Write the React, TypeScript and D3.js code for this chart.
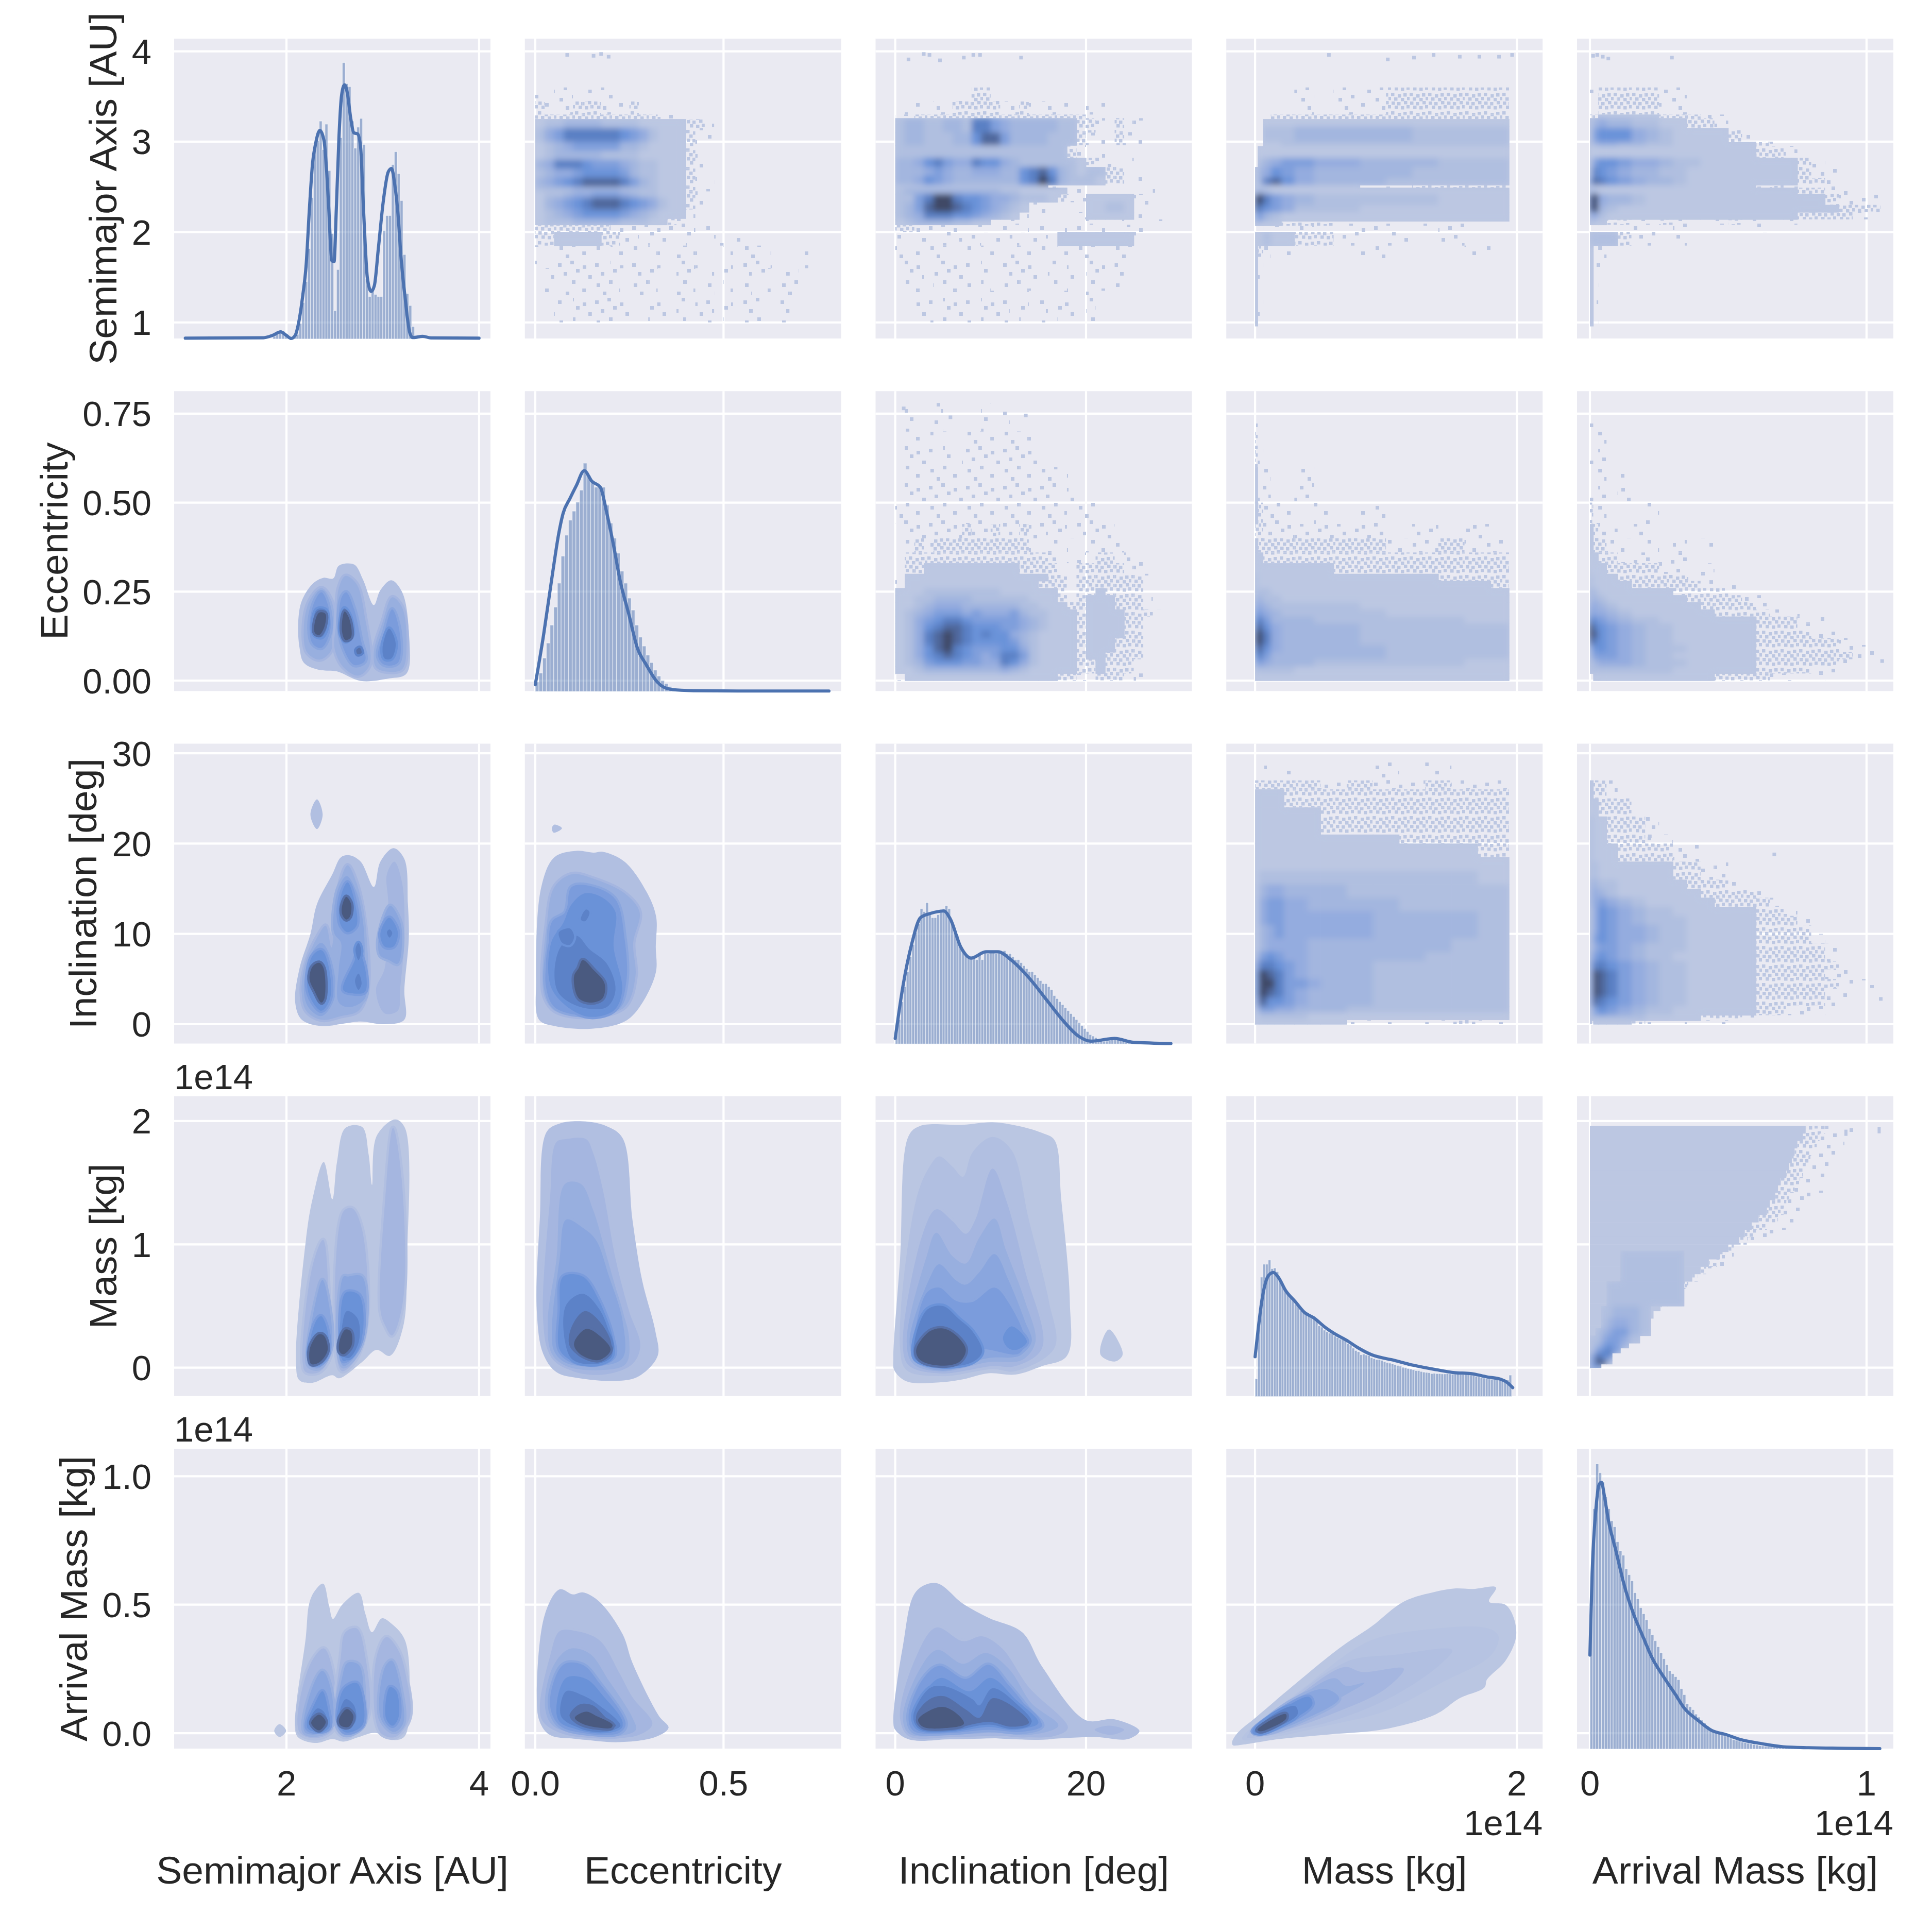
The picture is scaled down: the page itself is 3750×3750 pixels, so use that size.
import React from "react";
import * as d3 from "d3";

const labels = ["Semimajor Axis [AU]", "Eccentricity", "Inclination [deg]", "Mass [kg]", "Arrival Mass [kg]"];
const xDomains = [[0.834, 4.118], [-0.0277, 0.8125], [-2.06, 31.1], [-0.22, 2.197], [-0.0466, 1.097]];
const yDomains = [[0.822, 4.14], [-0.0293, 0.8133], [-2.14, 31.06], [-0.23, 2.201], [-0.06, 1.107]];
const xTicks = [[2, 4], [0, 0.5], [0, 20], [0, 2], [0, 1]];
const xTickText = [["2", "4"], ["0.0", "0.5"], ["0", "20"], ["0", "2"], ["0", "1"]];
const yTicks = [[1, 2, 3, 4], [0, 0.25, 0.5, 0.75], [0, 10, 20, 30], [0, 1, 2], [0, 0.5, 1]];
const yTickText = [["1", "2", "3", "4"], ["0.00", "0.25", "0.50", "0.75"], ["0", "10", "20", "30"], ["0", "1", "2"], ["0.0", "0.5", "1.0"]];
const yLabelX = [226, 131, 187, 226, 169];

// diagonal histograms: [first bin, bin width, heights in percent of panel height]
const histA = [1.86, 0.03, [0.7, 1.4, 2.5, 2.5, 1, 0.4, 0.2, 0.4, 1.4, 5, 12, 19, 30, 47, 64.5, 66, 72.5, 63, 71.5, 56, 35, 9.3, 23, 67, 92, 85, 84, 72.5, 63.5, 70.5, 73.4, 64.7, 20, 14, 16, 14.7, 14, 14, 36, 41, 41, 58, 62.3, 55, 46, 28, 15, 11, 4, 0.3]];
const histE = [0, 0.0098, [3, 6, 11, 16, 22, 28, 36, 45, 52, 57, 60, 63, 67, 76, 72, 70, 68, 68, 68, 62, 56, 51, 46, 40, 36, 31, 27, 22, 18, 15, 12, 9.5, 7, 5, 3.5, 2.5, 1.5, 1, 0.7, 0.5, 0.3, 0.2, 0.1]];
const histI = [0, 0.29, [6, 8, 14, 19, 24, 29, 33, 37, 40, 45, 44, 47, 43, 42, 42, 43, 44, 45, 46, 45, 40, 38, 36, 33, 31, 30, 29, 28.5, 29, 28, 30, 28, 31, 30, 31, 31, 30, 31, 30, 31, 30, 30, 29, 28, 28, 27, 26, 25, 24, 24, 23, 22, 21, 20, 20, 19, 18, 16, 15, 14, 13, 12, 11, 10, 9, 8, 7, 6, 5, 4, 3, 2.5, 2, 1.5, 1, 0.8, 0.8, 1, 1.3, 1.7, 1.8, 1.7, 1.5, 1.3, 1, 0.8, 0.6, 0.4, 0.3, 0.2]];
const histM = [0, 0.02, [5.8, 22, 39.7, 44, 44, 45.4, 42.5, 42.7, 41.5, 38.5, 36.8, 35.5, 34, 33.5, 32, 30.6, 30, 28.5, 28, 27.5, 26.8, 26.5, 26.1, 25, 23.5, 23, 22, 21.5, 21, 20.8, 20, 19.5, 19, 18.8, 18.5, 17.5, 17, 16, 15.2, 14.8, 13.8, 14, 13.7, 13.5, 12.8, 12.5, 12.2, 12.2, 11.9, 11.5, 11.2, 11, 10.8, 10.5, 10.2, 10, 9.6, 9.5, 9.2, 9, 8.8, 8.5, 8.5, 8.2, 8, 7.9, 7.8, 7.5, 7.6, 7.5, 7.5, 7.4, 7.4, 7.5, 7.4, 7.3, 7.3, 7.3, 7.2, 7.2, 7.3, 7.6, 7, 6.8, 6.6, 6.4, 6.2, 6, 5.8, 5.7, 5.6, 5.6, 5.5, 5.3, 5.4, 5.5, 5.4, 7]];
const histAM = [0, 0.0105, [45, 80, 95, 92, 89, 84, 80, 76, 74, 69, 66, 64.5, 60, 58, 56, 52, 50, 47, 45, 43, 40, 38, 36, 34, 32, 30, 28, 26, 25, 24, 23, 20, 18, 15, 14, 13, 11.5, 10.5, 9.5, 8.5, 7.5, 6.5, 6, 5.5, 5, 4.8, 4.2, 4, 3.5, 3, 2.8, 2.5, 2.2, 2, 1.8, 1.6, 1.4, 1.2, 1, 0.9, 0.8, 0.7, 0.6, 0.5, 0.4, 0.35, 0.3, 0.25, 0.2, 0.2, 0.15, 0.1, 0.1, 0.1, 0.1]];
const diagHists = [histA, histE, histI, histM, histAM];

// diagonal KDE curves: [value, percent of panel height]
const lineA = [[0.95, 0.1], [1.76, 0.25], [1.86, 1.1], [1.94, 2.2], [2, 1], [2.05, 0], [2.09, 1], [2.128, 5.5], [2.17, 14.5], [2.204, 24.3], [2.238, 43], [2.272, 58.8], [2.3, 64.5], [2.347, 69.4], [2.39, 66], [2.418, 55.5], [2.44, 43], [2.47, 26], [2.494, 25.6], [2.518, 43.4], [2.545, 67], [2.572, 81], [2.603, 84.6], [2.633, 81.7], [2.667, 73.5], [2.7, 68.6], [2.74, 68.2], [2.77, 63.7], [2.794, 47.3], [2.818, 31], [2.84, 20.2], [2.88, 15.7], [2.913, 17.7], [2.954, 30], [3.005, 45.7], [3.056, 55.5], [3.09, 56.7], [3.124, 51.4], [3.158, 41.5], [3.19, 26.8], [3.234, 13], [3.278, 2.2], [3.31, 0.3], [3.415, 0.7], [3.5, 0.2], [3.999, 0.1]];
const lineE = [[0, 2.1], [0.022, 18.7], [0.045, 38.5], [0.063, 53], [0.074, 59.3], [0.092, 64.2], [0.109, 68.5], [0.13, 73.5], [0.15, 70], [0.173, 67.9], [0.19, 59.3], [0.208, 48.5], [0.225, 37], [0.248, 25.8], [0.271, 14.4], [0.295, 8.7], [0.324, 3], [0.358, 0.6], [0.42, 0.1], [0.538, 0], [0.78, 0]];
const lineI = [[0, 1.7], [0.8, 19], [1.75, 33.5], [2.65, 42], [3.7, 43.4], [5.1, 44.2], [5.75, 41.7], [6.9, 32], [7.95, 28.5], [9.5, 30.6], [10.8, 30.6], [12.1, 28], [14, 22], [16, 14], [17.5, 8], [19.2, 2.5], [20.5, 0.8], [23, 1.7], [25, 0.4], [28.9, 0]];
const lineM = [[0, 13.1], [0.025, 22.9], [0.053, 32.2], [0.085, 38.6], [0.113, 40.7], [0.14, 41.2], [0.176, 39.7], [0.236, 35], [0.307, 31.5], [0.377, 27.9], [0.448, 26.1], [0.536, 22.9], [0.607, 20.8], [0.695, 18.7], [0.783, 16.2], [0.889, 13.8], [1.065, 11.9], [1.206, 10.3], [1.383, 8.8], [1.524, 7.8], [1.647, 7.5], [1.77, 6.4], [1.877, 5.6], [1.93, 4.4], [1.968, 2.8]];
const lineAM = [[0, 31.2], [0.008, 58.3], [0.022, 80.2], [0.033, 88], [0.042, 88.8], [0.052, 84.4], [0.067, 76], [0.092, 66.7], [0.125, 54.2], [0.158, 44.8], [0.191, 37.5], [0.225, 30.2], [0.266, 24], [0.308, 18.2], [0.341, 13.5], [0.391, 9.4], [0.441, 6], [0.491, 4.7], [0.541, 3.1], [0.624, 1.6], [0.699, 0.6], [0.79, 0.3], [1.048, 0]];
const diagLines = [lineA, lineE, lineI, lineM, lineAM];

// 2-D histograms: coarse density. "." empty, a/b sparse speckle, 1-9 density.
const eEdges = [0.78, 0.7, 0.6, 0.5, 0.44, 0.4, 0.36, 0.33, 0.3, 0.28, 0.26, 0.24, 0.22, 0.2, 0.18, 0.16, 0.14, 0.12, 0.1, 0.08, 0.06, 0.04, 0.02, 0];
const amCols = [0, 0.012, 0.03, 0.06, 0.1, 0.15, 0.2, 0.25, 0.3, 0.35, 0.4, 0.45, 0.5, 0.55, 0.6, 0.65, 0.7, 0.75, 0.8, 0.85, 0.9, 0.95, 1.05];
const eCols25 = d3.range(0, 33).map((k) => k * 0.025);
const iCols1 = d3.range(0, 30);

const aeY = [3.6, 3.45, 3.3, 3.25, 3.15, 3, 2.9, 2.8, 2.7, 2.6, 2.5, 2.45, 2.38, 2.25, 2.15, 2.08, 2, 1.85, 1.6, 1.3, 1];
const aeRows = ["a.aa.a.aa", "baaabbbaaab", "bbbbbbbbbbbbbaa", "1223333222211111bba", "2457777776542111baa", "1234555553321111ba", "1233333222211111ba", "3477765554322111ba", "2344566665322111ba", "3456788887532111baa", "2222333332222111baa", "1223445554322111ba", "1345678887654211ba", "1234566665432111a", "12223333322211ba", "bbbbbbbbaaaaaaaaa.a", "bb11111bbaa.aa..a..a.a", "a.aaaaa.aaa.aa.aaa..a.aa.a..a", ".a.aaaaaa.aaa..aa.a.a.a.a.aa", "..a.aaaaaa..aa.a.aa.a.aa..a"];
const aiY = [3.6, 3.45, 3.3, 3.26, 3.1, 2.96, 2.82, 2.72, 2.62, 2.52, 2.49, 2.42, 2.33, 2.22, 2.14, 2.08, 2, 1.85, 1.7, 1.35, 1];
const aiRows = ["........bb", ".aa.aabbbbbaabaaaaa.aa", "aabbbbbbbbbbbbbbbbbb", "2332233277543333322bba.baa", "2332223368853333222baa.baa", "222222222222222222ba.a", "33467544766432222221baa.a", "3334543344433678632122bb.a", "3346543333333679732221bb.aa", "1111111111111111a..a", "233333333332211111.a.......a", "22579976654432221baa11111aa", "23589987654321aa....11221aa", "2347776654321a.a...a11111a", "1233332211aaa.a.....aaaa.a.a", "bbaaaaa.aa.a.a.a.a.a.a..aa", "a.aa.aa.a.a.a.aa.11111111a", "a.aaaa.a.aa.aaaa.aaaa.aaa", ".aa.aaaa.a.aaaa.a.a.aa.a", "..aa.aaa.aaa.a.a.aa.a"];
const amX = [0, 0.02, 0.06, 0.12, 0.2, 0.3, 0.45, 0.6, 0.8, 1, 1.2, 1.4, 1.6, 1.8, 1.94];
const amY = [3.6, 3.3, 3.25, 3.17, 3, 2.95, 2.82, 2.72, 2.6, 2.52, 2.49, 2.42, 2.3, 2.22, 2.12, 2.07, 2, 1.85, 1.7, 0.96];
const amRows = [".....a.aabbbbb", "...bbbbbbbbbbb", "..111111111111", "..222333332222", "..112222222222", ".1111111111111", ".2345544333222", "13465433332222", "13786433322222", "11111111aabbbb", "23211111111111", "89754322222111", "87654222111111", "45321111111111", "2111bbbaaaaaa.", "aa.a.a..a..a..", "11211bba.a.a.", "1ba.a...a...a", "1a.........."];
const aaY = [3.6, 3.3, 3.26, 3.15, 3, 2.95, 2.82, 2.72, 2.6, 2.52, 2.49, 2.42, 2.3, 2.22, 2.14, 2.08, 2, 1.85, 1.6, 0.96];
const aaRows = ["aabbbbbaa", "bb11111bbbaa", "234332211bba", "256664321111ba", "23443322111111ba", "11111111111111bba", "25665443221111111ba", "37654332211111111baa", "58765433211111111bba", "11111111111111abaa.a", "32111111111111111bbaa", "8943321111111111111baa", "89321111111111111111bba", "44211111111111111bbbba", "211bbaabaaaabaaaa.a.a", "a....a..a.....a", "2222baa.a", "1aa", "1a"];
const eiRows = [".a..a....a.a", ".aaa.a.aaaaaaaa", ".aaaaaaaaaaaaaaaa.a", "aaaaaaaaaaaaaaaaaa.aa", ".aaaaaabaabaabaa.a.a.aa", ".ababbbbbbbbbba.a.a.aa.a", ".bbbbbbbbbbbbbbba.aa.bb.aa", ".bb1111111111bbbb..bbbbbaa", "a111111111111111bb.bbbbbbba", "a11111111111111bbb.bbbbbbb", "11122222222111111b.bb1bbbb", "11223333222222111b.b111bbba", "112344433333322111bb111bbba", "1234555454445322111b1111bbba", "1245677655555432111b1111bba", "1246788766655432111b1111bba", "1247898767664321111b1111bb", "1247898766665321111b111bbb", "1246897655566421111b111bbb", "1246787654577521111b11bbbb", "1235666554476421111bb1bbb", "1123333333343211111bb1bbba", "a1111111111111111bba.bbb.a"];
const emX = [0, 0.02, 0.06, 0.12, 0.2, 0.3, 0.45, 0.6, 0.8, 1, 1.2, 1.4, 1.6, 1.8, 1.94];
const emRows = ["a", "ba", "1aa..a", "1baaa.a.a", "bbaaaaaaa.a.a", "1bbbbbbbbaabaa", "11bbbbbbbbbbbb", "1111111bbbbbbb", "21111111111bbb", "2111111111111b", "22211111111111", "33221111111111", "44322222111111", "55432222211111", "67533322222211", "78643333222222", "89743333222222", "89743333222222", "78643333322222", "67533333322222", "45433322222211", "22222111111111", "11111111111111"];
const eaRows = ["a", "a.a", "a.a.a", "baa...a", "1baa.a", "1bbaa.a.a.a", "11bbaaaaa", "111bbbbaa.a", "2111bbbbbaa", "21111bbbbba.a", "32111111bbbba", "332111111bbbbaa", "4432111111bbbba", "54432111111bbbba.a", "76543221111111bbbaa", "97654322111111bbbaa", "98654322111111bbbbaa", "87654322111111bbbbbba", "46654322211111bbbbbbaa", "35554322111111bbbbbbba", "23444322211111bbbbbba", "22222222111111bbbbaa", "a1111111111bbbbaa.a"];
const imX = [0, 0.03, 0.09, 0.15, 0.22, 0.3, 0.4, 0.5, 0.7, 0.9, 1.1, 1.3, 1.5, 1.7, 1.94];
const imY = [29, 27, 26, 24, 21, 20, 18.5, 17, 15.5, 14, 12.5, 11, 9.5, 8, 7, 6, 5, 4, 3, 2, 1.3, 0.5, 0];
const imRows = [".a..a....a.a", "bbbbbbbabaabaa", "1111bbbbbbbbbb", "1111111bbbbbbb", "1111111111bbbb", "1111111111111b", "11111111111111", "12222222222221", "13443333222222", "14554433332222", "14554444433332", "13454444433332", "13444433333322", "25654433333222", "47765433322222", "59875433322222", "59975543322222", "59875433322222", "48665433322222", "25544333222222", "12222211111111", "11111111aa.aba"];
const iaY = [29, 27, 25, 23, 21, 20, 18, 16, 15, 14, 13, 12, 11, 10, 9, 8, 7, 6, 5, 4, 3, 2, 1, 0.4, 0];
const iaRows = ["a", "1bba", "11bbb", "211bbba", "211bbbaa", "2111bbbbaa", "22111111bbaa", "332211111bbba", "3432111111bbbba", "34543211111bbbba", "24654322111111bba", "24654322211111bbba", "24654432211111bbbb", "25654432211111bbbba", "24554322211111bbbbba", "35654322111111bbbbba", "47765432211111bbbbbba", "49875432211111bbbbbaa", "49875432211111bbbbbbaa", "49875432211111bbbbbaa", "48765432211111bbbbba", "25654322111111bbaaa", "2222221111bbbaa", "b1111baaa..aa"];

// Mass against arrival mass: for each mass row, arrival mass where solid, medium and sparse cells end
const maRowTop = [1.96, 1.9, 1.84, 1.78, 1.72, 1.66, 1.6, 1.54, 1.48, 1.42, 1.36, 1.3, 1.24, 1.18, 1.12, 1.06, 1, 0.94, 0.88, 0.82, 0.76, 0.7, 0.64, 0.58, 0.52, 0.46, 0.4, 0.34, 0.28, 0.22, 0.16, 0.1, 0.04, 0];
const maSolid = [0.78, 0.77, 0.75, 0.74, 0.73, 0.72, 0.71, 0.69, 0.68, 0.67, 0.65, 0.64, 0.61, 0.585, 0.56, 0.54, 0.5, 0.47, 0.43, 0.4, 0.37, 0.335, 0.31, 0.28, 0.255, 0.23, 0.205, 0.175, 0.135, 0.1, 0.07, 0.045, 0.02];
const maMedium = [0.85, 0.83, 0.82, 0.8, 0.79, 0.78, 0.77, 0.76, 0.74, 0.72, 0.71, 0.7, 0.68, 0.64, 0.6, 0.57, 0.52, 0.49, 0.46, 0.42, 0.39, 0.35, 0.32, 0.29, 0.26, 0.23, 0.205, 0.175, 0.135, 0.1, 0.07, 0.045, 0.02];
const maSparse = [0.97, 0.95, 0.92, 0.9, 0.88, 0.87, 0.86, 0.85, 0.85, 0.82, 0.78, 0.77, 0.74, 0.72, 0.68, 0.6, 0.55, 0.52, 0.49, 0.44, 0.4, 0.36, 0.33, 0.3, 0.27, 0.24, 0.21, 0.18, 0.14, 0.1, 0.07, 0.045, 0.02];
const maCoreX = [0, 0.02, 0.04, 0.06, 0.08, 0.11, 0.14, 0.18, 0.22, 0.28, 0.34];
const maCoreY = [0.95, 0.7, 0.5, 0.4, 0.32, 0.26, 0.2, 0.16, 0.12, 0.09, 0.06, 0.03, 0];
const maCoreRows = [".....22222", "...2222222", "..223332", "..234432", ".2345532", "2245542", "235653", "25675", "4777", "5865", "4992", "66"];

const speckAE = [[0.08, 3.98], [0.15, 3.97], [0.17, 3.99], [0.19, 3.96]];
const speckAI = [[1.2, 3.93], [2.8, 3.99], [3.4, 3.98], [4.5, 3.92], [7, 3.95], [8, 3.98], [8.7, 3.98], [13, 3.95]];
const speckAM = [[0.55, 3.98], [1, 3.93], [1.2, 3.95], [1.35, 3.98], [1.55, 3.96], [1.7, 3.96], [1.85, 3.96], [1.95, 3.98]];
const speckAA = [[0.005, 3.97], [0.02, 3.98], [0.04, 3.96], [0.06, 3.94], [0.29, 3.95]];
const speckMA = [[1.04, 1.95], [0.92, 1.93]];

const heatPanels = [
  { r: 0, c: 1, xs: eCols25, ys: aeY, rows: aeRows, specks: speckAE },
  { r: 0, c: 2, xs: iCols1, ys: aiY, rows: aiRows, specks: speckAI },
  { r: 0, c: 3, xs: amX, ys: amY, rows: amRows, specks: speckAM },
  { r: 0, c: 4, xs: amCols, ys: aaY, rows: aaRows, specks: speckAA },
  { r: 1, c: 2, xs: iCols1, ys: eEdges, rows: eiRows, specks: [[0.7, 0.77], [5.6, 0.745], [13.5, 0.75]] },
  { r: 1, c: 3, xs: emX, ys: eEdges, rows: emRows, specks: [] },
  { r: 1, c: 4, xs: amCols, ys: eEdges, rows: eaRows, specks: [[1.05, 0.06]] },
  { r: 2, c: 3, xs: imX, ys: imY, rows: imRows, specks: [] },
  { r: 2, c: 4, xs: amCols, ys: iaY, rows: iaRows, specks: [[0.21, 21], [0.66, 19], [1.045, 3]] },
];

// Filled KDE contours: [level, x values, y values]
type Ring = [number, number[], number[]];
const kdeAE: Ring[] = [
  [1, [2.122, 2.159, 2.272, 2.385, 2.485, 2.544, 2.703, 2.794, 2.907, 2.975, 3.088, 3.202, 3.27, 3.247, 3.066, 2.771, 2.522, 2.34, 2.181, 2.136], [0.164, 0.224, 0.272, 0.289, 0.287, 0.323, 0.326, 0.284, 0.212, 0.254, 0.282, 0.248, 0.14, 0.02, 0.006, -0.001, 0.026, 0.03, 0.05, 0.092]],
  [3, [2.181, 2.24, 2.363, 2.467, 2.499, 2.454, 2.34, 2.213], [0.152, 0.224, 0.26, 0.224, 0.14, 0.08, 0.059, 0.08]],
  [3, [2.512, 2.544, 2.612, 2.726, 2.816, 2.862, 2.748, 2.59, 2.499], [0.152, 0.26, 0.294, 0.272, 0.176, 0.044, 0.014, 0.038, 0.092]],
  [3, [2.907, 2.998, 3.098, 3.2, 3.247, 3.2, 3.02, 2.93], [0.08, 0.164, 0.234, 0.206, 0.104, 0.032, 0.026, 0.038]],
  [5, [2.24, 2.295, 2.363, 2.431, 2.454, 2.363, 2.272], [0.158, 0.224, 0.248, 0.212, 0.14, 0.092, 0.104]],
  [5, [2.544, 2.576, 2.621, 2.703, 2.771, 2.816, 2.703, 2.59], [0.158, 0.236, 0.248, 0.2, 0.116, 0.056, 0.044, 0.092]],
  [5, [2.952, 3.02, 3.098, 3.179, 3.156, 3.02], [0.068, 0.14, 0.2, 0.128, 0.05, 0.044]],
  [7, [2.272, 2.317, 2.408, 2.422, 2.363, 2.295], [0.152, 0.2, 0.198, 0.152, 0.122, 0.128]],
  [7, [2.558, 2.599, 2.649, 2.685, 2.612, 2.567], [0.158, 0.203, 0.188, 0.128, 0.11, 0.128]],
  [7, [2.998, 3.066, 3.134, 3.088, 3.02], [0.092, 0.146, 0.104, 0.062, 0.062]],
  [8, [2.726, 2.762, 2.78, 2.739], [0.086, 0.092, 0.078, 0.074]],
  [9, [2.295, 2.34, 2.404, 2.395, 2.34, 2.295], [0.164, 0.191, 0.188, 0.152, 0.128, 0.134]],
  [9, [2.576, 2.603, 2.649, 2.671, 2.612], [0.14, 0.194, 0.176, 0.122, 0.114]],
];
const kdeAI: Ring[] = [
  [1, [2.091, 2.136, 2.249, 2.317, 2.476, 2.567, 2.658, 2.771, 2.907, 2.975, 3.111, 3.224, 3.261, 3.27, 3.224, 3.224, 3.02, 2.771, 2.612, 2.363, 2.159], [2.4, 6.2, 10, 13.3, 16.6, 18.5, 18.7, 18, 15.2, 18, 19.5, 18.3, 13.3, 9.5, 3.8, 0.5, 0, 0.3, 0.1, -0.2, 0.5]],
  [1, [2.249, 2.317, 2.376, 2.317], [23.2, 24.9, 23.2, 21.6]],
  [3, [2.159, 2.213, 2.34, 2.408, 2.467, 2.512, 2.567, 2.635, 2.726, 2.816, 2.839, 2.748, 2.567, 2.363, 2.204], [3.8, 7.1, 10, 10.9, 8.5, 12.4, 16.1, 17.6, 15.7, 11, 3.8, 1.5, 0.9, 0.5, 1.5]],
  [2, [2.93, 3.02, 3.057, 3.043, 3.12, 3.2, 3.224, 3.179, 3.156, 3.02], [3.8, 6.2, 13.3, 16.6, 18, 15.7, 9.5, 3.8, 1.5, 1.2]],
  [4, [2.181, 2.249, 2.363, 2.467, 2.499, 2.363, 2.227], [3.8, 7.6, 9, 7.1, 2.9, 0.9, 1.9]],
  [4, [2.485, 2.544, 2.626, 2.726, 2.794, 2.816, 2.816, 2.658, 2.544, 2.544, 2.567, 2.499], [11.4, 15.2, 16.4, 14.7, 11.4, 7.1, 2.9, 1.9, 2.4, 6.2, 9, 10]],
  [4, [2.952, 3.02, 3.079, 3.179, 3.2, 3.156, 3.066, 2.975], [9, 12.1, 13.1, 11.4, 9, 6.7, 7.1, 7.6]],
  [6, [2.213, 2.272, 2.363, 2.431, 2.454, 2.363, 2.249], [4.8, 7.6, 8.2, 6.7, 2.9, 1.5, 2.9]],
  [6, [2.544, 2.59, 2.635, 2.703, 2.726, 2.635, 2.567], [12.8, 15, 15.7, 13.8, 10.9, 10.2, 10.9]],
  [6, [2.59, 2.703, 2.748, 2.816, 2.816, 2.703], [3.8, 6.9, 8.1, 6.2, 3.6, 3.4]],
  [6, [2.975, 3.066, 3.156, 3.111, 3.02], [10, 11.8, 10.2, 8.6, 8.6]],
  [7, [3.043, 3.07, 3.098, 3.07], [10.2, 10.5, 10.1, 9.6]],
  [7, [2.717, 2.748, 2.776, 2.748], [8.3, 9, 8.1, 7.1]],
  [7, [2.712, 2.748, 2.78, 2.748], [4.8, 5.6, 4.5, 3.8]],
  [9, [2.24, 2.272, 2.34, 2.385, 2.395, 2.363, 2.295], [5, 6.4, 6.8, 6.2, 2.9, 2.4, 3.6]],
  [9, [2.576, 2.621, 2.671, 2.658, 2.621, 2.581], [13, 14.1, 13.3, 11.9, 11.6, 12.1]],
];
const kdeAM: Ring[] = [
  [0, [2.099, 2.202, 2.27, 2.387, 2.476, 2.524, 2.613, 2.785, 2.853, 2.888, 2.936, 3.128, 3.23, 3.251, 3.21, 3.073, 2.936, 2.785, 2.545, 2.476, 2.27, 2.134], [0.046, 1.036, 1.366, 1.667, 1.366, 1.663, 1.944, 1.952, 1.729, 1.482, 1.878, 2.013, 1.944, 0.871, 0.327, 0.096, 0.145, 0.046, -0.086, -0.061, -0.122, -0.102]],
  [2, [2.168, 2.27, 2.38, 2.442, 2.463, 2.339, 2.202], [0.046, 0.822, 1.036, 0.541, 0.112, -0.036, -0.036]],
  [2, [2.524, 2.592, 2.682, 2.785, 2.833, 2.716, 2.579], [0.079, 1.267, 1.292, 1.119, 0.376, 0.063, -0.028]],
  [2, [2.977, 3.025, 3.107, 3.196, 3.21, 3.094, 3.025], [0.459, 1.366, 1.944, 1.531, 0.541, 0.261, 0.343]],
  [4, [2.216, 2.305, 2.374, 2.442, 2.463, 2.339, 2.236], [0.079, 0.541, 0.711, 0.508, 0.162, -0.003, 0.013]],
  [4, [2.545, 2.592, 2.634, 2.785, 2.812, 2.716, 2.592], [0.112, 0.739, 0.739, 0.739, 0.294, 0.096, 0.013]],
  [6, [2.236, 2.305, 2.36, 2.428, 2.428, 2.319], [0.096, 0.376, 0.417, 0.294, 0.096, 0.021]],
  [6, [2.565, 2.613, 2.751, 2.798, 2.73, 2.592], [0.162, 0.607, 0.591, 0.327, 0.145, 0.054]],
  [7, [2.23, 2.319, 2.374, 2.428, 2.36, 2.27], [0.129, 0.269, 0.269, 0.145, 0.046, 0.03]],
  [7, [2.565, 2.627, 2.737, 2.751, 2.648, 2.565], [0.244, 0.459, 0.401, 0.211, 0.079, 0.112]],
  [9, [2.243, 2.332, 2.387, 2.428, 2.346, 2.257], [0.153, 0.269, 0.261, 0.145, 0.046, 0.03]],
  [9, [2.552, 2.613, 2.668, 2.675, 2.592, 2.552], [0.219, 0.31, 0.294, 0.178, 0.109, 0.129]],
];
const kdeAA: Ring[] = [
  [0, [2.099, 2.202, 2.236, 2.291, 2.38, 2.442, 2.483, 2.579, 2.751, 2.819, 2.888, 2.99, 3.094, 3.23, 3.278, 3.23, 3.128, 2.922, 2.751, 2.593, 2.476, 2.319, 2.168], [-0.003, 0.377, 0.504, 0.552, 0.582, 0.496, 0.445, 0.5, 0.546, 0.465, 0.393, 0.447, 0.425, 0.362, 0.14, -0.011, -0.027, 0.001, -0.015, -0.033, -0.023, -0.038, -0.027]],
  [0, [1.873, 1.928, 1.997, 1.928], [0.009, 0.035, 0.009, -0.015]],
  [2, [2.134, 2.236, 2.387, 2.476, 2.497, 2.319], [0.005, 0.259, 0.33, 0.251, 0.021, -0.019]],
  [2, [2.511, 2.565, 2.613, 2.729, 2.819, 2.84, 2.613], [0.021, 0.298, 0.393, 0.408, 0.298, 0.06, -0.015]],
  [2, [2.922, 2.936, 3.039, 3.162, 3.244, 3.278, 3.128, 2.99], [0.06, 0.298, 0.374, 0.322, 0.219, 0.06, -0.015, -0.003]],
  [4, [2.189, 2.27, 2.374, 2.456, 2.469, 2.339], [0.005, 0.179, 0.243, 0.179, 0.029, -0.003]],
  [4, [2.524, 2.579, 2.634, 2.751, 2.805, 2.798, 2.613], [0.029, 0.219, 0.274, 0.266, 0.14, 0.029, -0.007]],
  [4, [2.977, 3.025, 3.094, 3.183, 3.21, 3.114], [0.06, 0.259, 0.282, 0.179, 0.036, 0.005]],
  [6, [2.216, 2.305, 2.374, 2.428, 2.442, 2.332], [0.021, 0.124, 0.163, 0.1, 0.021, 0.005]],
  [6, [2.538, 2.593, 2.73, 2.798, 2.785, 2.613], [0.044, 0.171, 0.195, 0.124, 0.029, 0.003]],
  [6, [3.032, 3.073, 3.141, 3.162, 3.1], [0.06, 0.179, 0.163, 0.06, 0.029]],
  [7, [2.236, 2.319, 2.387, 2.428, 2.332], [0.036, 0.096, 0.084, 0.029, 0.009]],
  [7, [2.545, 2.613, 2.702, 2.716, 2.613], [0.052, 0.132, 0.108, 0.044, 0.017]],
  [9, [2.257, 2.339, 2.408, 2.339], [0.04, 0.072, 0.044, 0.011]],
  [9, [2.545, 2.627, 2.695, 2.648, 2.565], [0.052, 0.094, 0.068, 0.025, 0.029]],
];
const kdeEI: Ring[] = [
  [1, [0.002, 0.016, 0.051, 0.109, 0.155, 0.179, 0.237, 0.295, 0.321, 0.32, 0.32, 0.277, 0.237, 0.15, 0.051, 0.01], [4.8, 15.2, 18.5, 19.2, 19, 19.1, 18, 14.7, 11.9, 8.6, 5.7, 1.9, 0.3, -0.5, -0.2, 0.5]],
  [1, [0.044, 0.051, 0.071, 0.049], [21.7, 22.1, 21.7, 21.2]],
  [3, [0.019, 0.03, 0.051, 0.097, 0.155, 0.237, 0.277, 0.26, 0.266, 0.237, 0.132, 0.051, 0.026], [4.8, 10.9, 15.2, 16.6, 16.1, 14.5, 12.4, 9, 5.3, 1.9, 0.8, 1.5, 2.9]],
  [5, [0.035, 0.045, 0.08, 0.097, 0.155, 0.213, 0.237, 0.242, 0.219, 0.132, 0.051, 0.028], [8.6, 11.4, 12.4, 15.2, 15.2, 13.8, 9.5, 4.8, 1.9, 1, 1.9, 4.3]],
  [6, [0.042, 0.074, 0.097, 0.132, 0.179, 0.213, 0.208, 0.231, 0.208, 0.132, 0.045], [9, 11.2, 13.3, 14.5, 14, 12.4, 8.6, 3.8, 1.5, 0.9, 3.8]],
  [7, [0.051, 0.068, 0.109, 0.144, 0.19, 0.213, 0.19, 0.121, 0.063], [5.7, 8.6, 9.8, 8.3, 6.7, 3.8, 1.9, 1.9, 3.4]],
  [7, [0.063, 0.092, 0.103, 0.092, 0.072, 0.065], [10.2, 10.6, 9.7, 8.8, 9, 9.5]],
  [7, [0.121, 0.135, 0.144, 0.132], [11.6, 12.7, 12.4, 11.4]],
  [9, [0.103, 0.115, 0.126, 0.155, 0.184, 0.179, 0.15, 0.115], [5.3, 6.2, 7.1, 6, 4.5, 2.9, 2.4, 2.9]],
];
const kdeEM: Ring[] = [
  [1, [0.004, 0.012, 0.03, 0.065, 0.126, 0.188, 0.232, 0.258, 0.284, 0.319, 0.325, 0.275, 0.223, 0.118, 0.056, 0.021], [0.459, 1.201, 1.911, 1.98, 1.997, 1.96, 1.861, 1.201, 0.706, 0.294, 0.096, -0.069, -0.106, -0.086, -0.036, 0.112]],
  [2, [0.021, 0.039, 0.056, 0.082, 0.135, 0.153, 0.179, 0.214, 0.249, 0.279, 0.258, 0.188, 0.1, 0.039], [0.376, 1.366, 1.828, 1.853, 1.853, 1.746, 1.449, 0.871, 0.459, 0.178, 0.03, -0.053, -0.028, 0.112]],
  [3, [0.033, 0.056, 0.079, 0.121, 0.153, 0.188, 0.223, 0.249, 0.24, 0.17, 0.082, 0.044], [0.376, 0.871, 1.49, 1.49, 1.284, 0.921, 0.541, 0.244, 0.03, -0.02, 0.013, 0.112]],
  [4, [0.044, 0.065, 0.082, 0.126, 0.161, 0.196, 0.232, 0.232, 0.17, 0.082, 0.051], [0.294, 0.888, 1.201, 1.135, 1.036, 0.739, 0.376, 0.079, 0.013, 0.038, 0.129]],
  [6, [0.074, 0.126, 0.17, 0.205, 0.209, 0.17, 0.1, 0.065, 0.065], [0.739, 0.739, 0.541, 0.244, 0.096, 0.03, 0.054, 0.145, 0.459]],
  [7, [0.082, 0.126, 0.17, 0.202, 0.202, 0.161, 0.1, 0.079], [0.508, 0.599, 0.475, 0.211, 0.087, 0.03, 0.063, 0.211]],
  [8, [0.096, 0.132, 0.179, 0.202, 0.17, 0.126, 0.091], [0.327, 0.459, 0.343, 0.162, 0.054, 0.079, 0.178]],
  [9, [0.104, 0.135, 0.17, 0.2, 0.17, 0.126, 0.105], [0.211, 0.314, 0.261, 0.145, 0.063, 0.096, 0.162]],
];
const kdeEA: Ring[] = [
  [1, [0.004, 0.026, 0.065, 0.1, 0.126, 0.17, 0.232, 0.258, 0.328, 0.354, 0.319, 0.223, 0.118, 0.039, 0.012], [0.14, 0.465, 0.56, 0.54, 0.548, 0.512, 0.385, 0.274, 0.068, 0.021, -0.015, -0.035, -0.023, -0.007, 0.044]],
  [2, [0.012, 0.039, 0.065, 0.109, 0.17, 0.223, 0.258, 0.311, 0.275, 0.17, 0.074, 0.021], [0.1, 0.298, 0.397, 0.397, 0.362, 0.235, 0.14, 0.036, -0.007, -0.019, -0.003, 0.044]],
  [3, [0.026, 0.047, 0.091, 0.144, 0.196, 0.258, 0.267, 0.223, 0.118, 0.047], [0.1, 0.259, 0.328, 0.31, 0.203, 0.06, 0.013, -0.011, -0.003, 0.029]],
  [5, [0.039, 0.074, 0.126, 0.17, 0.24, 0.223, 0.153, 0.065], [0.116, 0.266, 0.266, 0.195, 0.036, 0.001, -0.003, 0.029]],
  [6, [0.056, 0.082, 0.135, 0.179, 0.232, 0.196, 0.118, 0.065], [0.1, 0.215, 0.211, 0.147, 0.036, 0.005, 0.013, 0.044]],
  [7, [0.068, 0.082, 0.126, 0.17, 0.226, 0.188, 0.109], [0.068, 0.163, 0.147, 0.108, 0.029, 0.009, 0.025]],
  [8, [0.091, 0.118, 0.153, 0.188, 0.214, 0.179, 0.118], [0.068, 0.112, 0.108, 0.06, 0.029, 0.013, 0.029]],
  [9, [0.105, 0.135, 0.161, 0.205, 0.202, 0.17, 0.126], [0.06, 0.084, 0.068, 0.033, 0.021, 0.021, 0.036]],
];
const kdeIM: Ring[] = [
  [0, [-0.2, 0.5, 1.4, 2.6, 7.1, 10.2, 12.9, 15.4, 16.7, 17.4, 18.3, 18, 15.4, 12.6, 9.8, 7.1, 4.6, 1.2, -0.1], [0.079, 0.871, 1.878, 1.96, 1.969, 1.99, 1.96, 1.903, 1.845, 1.366, 0.541, 0.096, 0.013, -0.056, -0.045, -0.094, -0.119, -0.111, -0.02]],
  [0, [21.5, 22.4, 23.7, 23.8, 23, 21.6], [0.162, 0.31, 0.162, 0.096, 0.05, 0.096]],
  [1, [0.5, 2.2, 3.6, 4.6, 6, 7.1, 8.1, 10.2, 12.2, 14, 16.1, 16.7, 12.6, 10.2, 5, 1.2], [0.162, 1.366, 1.63, 1.713, 1.63, 1.548, 1.746, 1.871, 1.763, 1.201, 0.541, 0.162, -0.028, -0.012, -0.069, -0.02]],
  [2, [0.8, 2.9, 4.3, 6, 7.4, 8.4, 10.2, 11.6, 13.6, 15.4, 12.6, 10.2, 5, 1.5], [0.162, 1.089, 1.284, 1.188, 1.086, 1.2, 1.614, 1.366, 0.79, 0.162, 0.013, 0.013, -0.045, 0.013]],
  [3, [1.2, 3.3, 4.3, 6, 7.4, 8.8, 10.4, 11.6, 13.6, 14.7, 13.3, 9.8, 5, 1.9], [0.211, 0.904, 1.094, 0.904, 0.845, 1.053, 1.209, 0.954, 0.541, 0.211, 0.063, 0.046, -0.028, 0.03]],
  [4, [1.5, 3.6, 4.6, 6.4, 7.4, 8.8, 10.4, 11.9, 13.6, 14.3, 12.9, 9.8, 5, 2.2], [0.211, 0.723, 0.838, 0.706, 0.673, 0.772, 0.921, 0.706, 0.376, 0.211, 0.096, 0.079, -0.012, 0.046]],
  [5, [1.9, 3.3, 4.6, 6.4, 8.1, 10.4, 11.9, 13.6, 12.9, 9.1, 8.4, 5, 2.2], [0.162, 0.607, 0.649, 0.541, 0.533, 0.649, 0.525, 0.211, 0.112, 0.145, 0.079, -0.005, 0.063]],
  [6, [11.3, 12.2, 13.8, 12.7, 11.8], [0.244, 0.335, 0.211, 0.145, 0.162]],
  [7, [1.9, 3.3, 5, 6.7, 8.1, 9.1, 8.1, 5, 2.2], [0.145, 0.467, 0.5, 0.393, 0.294, 0.129, 0.046, 0.01, 0.063]],
  [9, [2.2, 3.6, 5, 6.4, 7.4, 6.7, 4.6, 2.6], [0.145, 0.294, 0.318, 0.261, 0.145, 0.046, 0.017, 0.063]],
];
const kdeIA: Ring[] = [
  [1, [-0.2, 0.8, 2.2, 4.3, 7.1, 9.8, 13.3, 15.4, 19.9, 23, 25.6, 24.4, 20.9, 14, 7.1, 1.5, 0], [0.044, 0.338, 0.552, 0.584, 0.504, 0.449, 0.393, 0.259, 0.052, 0.054, 0.009, -0.023, -0.015, -0.025, -0.015, -0.025, 0.013]],
  [2, [20.9, 22.4, 24, 22.6], [0.013, 0.029, 0.013, -0.007]],
  [2, [0.5, 2.2, 4.3, 7.1, 9.1, 11.2, 14, 18.1, 16.7, 10.5, 5.7, 1.5], [0.06, 0.298, 0.411, 0.358, 0.377, 0.33, 0.179, 0.021, -0.011, -0.011, -0.015, -0.011]],
  [3, [0.8, 2.6, 4.4, 7.1, 9.5, 11.9, 14.3, 17.1, 14, 10.5, 5.7, 1.5], [0.06, 0.251, 0.324, 0.27, 0.312, 0.251, 0.116, 0.029, -0.007, 0.001, -0.007, -0.003]],
  [5, [1.4, 2.9, 4.6, 7.4, 9.8, 11.9, 14, 15.4, 13.3, 9.8, 5.7, 1.9], [0.068, 0.211, 0.262, 0.211, 0.266, 0.187, 0.092, 0.029, 0.005, 0.013, 0.001, 0.009]],
  [6, [1.7, 3.3, 4.8, 7.8, 10, 12.6, 15, 12.9, 9.8, 5.7, 2.2], [0.068, 0.171, 0.215, 0.163, 0.215, 0.132, 0.04, 0.017, 0.025, 0.009, 0.017]],
  [7, [1.9, 3.6, 5.1, 8.1, 8.8, 10.2, 12.9, 14.3, 12.6, 9.8, 5.7, 2.4], [0.068, 0.175, 0.183, 0.132, 0.108, 0.175, 0.108, 0.044, 0.021, 0.033, 0.013, 0.021]],
  [8, [2.2, 3.6, 5.1, 7.4, 8.8, 10.2, 13.3, 14, 12.2, 9.8, 5.7, 2.6], [0.068, 0.132, 0.144, 0.092, 0.06, 0.136, 0.076, 0.04, 0.025, 0.044, 0.017, 0.025]],
  [9, [2.4, 3.6, 5.1, 6.7, 7.2, 5, 2.9], [0.052, 0.088, 0.102, 0.068, 0.036, 0.019, 0.025]],
];
const kdeMA: Ring[] = [
  [0, [-0.176, -0.134, 0.007, 0.289, 0.642, 0.889, 1.136, 1.383, 1.524, 1.665, 1.841, 1.788, 1.912, 1.975, 1.993, 1.912, 1.771, 1.753, 1.559, 1.383, 0.995, 0.571, 0.183, -0.099, -0.169], [-0.035, 0.001, 0.062, 0.184, 0.33, 0.415, 0.512, 0.551, 0.563, 0.561, 0.567, 0.512, 0.5, 0.451, 0.372, 0.281, 0.208, 0.178, 0.135, 0.074, 0.016, -0.005, -0.023, -0.045, -0.047]],
  [0.5, [-0.099, 0.36, 0.854, 1.206, 1.771, 1.859, 1.806, 1.418, 0.995, 0.571, 0.113], [-0.023, 0.172, 0.354, 0.397, 0.409, 0.378, 0.305, 0.195, 0.086, 0.032, -0.017]],
  [1, [-0.063, 0.36, 0.713, 1.065, 1.506, 1.418, 1.065, 0.607, 0.113], [-0.017, 0.159, 0.281, 0.305, 0.324, 0.269, 0.147, 0.05, -0.005]],
  [2, [-0.028, 0.289, 0.677, 0.818, 1.136, 0.995, 0.642, 0.183], [0.001, 0.129, 0.257, 0.238, 0.251, 0.172, 0.086, 0.007]],
  [3, [-0.01, 0.289, 0.607, 0.695, 0.836, 0.642, 0.395, 0.113], [0.001, 0.122, 0.214, 0.184, 0.196, 0.135, 0.062, 0.001]],
  [4, [-0.01, 0.254, 0.536, 0.642, 0.36, 0.078], [0.001, 0.117, 0.172, 0.135, 0.05, -0.001]],
  [6, [-0.018, 0.183, 0.413, 0.437, 0.254, 0.042], [0.007, 0.086, 0.141, 0.111, 0.044, 0.001]],
  [7, [-0.004, 0.183, 0.307, 0.325, 0.183, 0.042], [0.007, 0.086, 0.105, 0.074, 0.026, -0.001]],
  [9, [0.018, 0.183, 0.236, 0.236, 0.131, 0.042], [0.013, 0.068, 0.074, 0.056, 0.023, 0.007]],
];
const kdePanels: { r: number; c: number; rings: Ring[] }[] = [
  { r: 1, c: 0, rings: kdeAE }, { r: 2, c: 0, rings: kdeAI }, { r: 3, c: 0, rings: kdeAM }, { r: 4, c: 0, rings: kdeAA },
  { r: 2, c: 1, rings: kdeEI }, { r: 3, c: 1, rings: kdeEM }, { r: 4, c: 1, rings: kdeEA },
  { r: 3, c: 2, rings: kdeIM }, { r: 4, c: 2, rings: kdeIA }, { r: 4, c: 3, rings: kdeMA },
];

const kdeColor = d3.scaleLinear<string>()
  .domain([0, 1, 2, 3, 4, 5, 6, 7, 8, 9])
  .range(["#bac6e2", "#b1bfe1", "#a5b6e0", "#98afdf", "#8aa6de", "#7b9cdc", "#6a92d8", "#5c82c8", "#5670a8", "#4a5a80"]);
const heatColor: Record<string, string> = {
  a: "url(#speckA)", b: "url(#speckB)",
  "1": "#bcc7e2", "2": "#b0bfe0", "3": "#a3b6df", "4": "#94acdf", "5": "#7f9fdc",
  "6": "#6a93d9", "7": "#5a80c4", "8": "#4f689c", "9": "#3f4a66",
};
const speckAcells = [[3, 7], [27, 2], [51, 11], [14, 24], [38, 18], [62, 30], [6, 46], [30, 40], [50, 56], [18, 62]];
const speckBcells = [[0, 0], [13, 3], [24, 1], [6, 9], [19, 10], [31, 8], [1, 17], [12, 18], [25, 16], [7, 25], [19, 26], [30, 24]];

const LEFT = 338, COL_W = 614, COL_STEP = 680.75, TOP = 75, ROW_H = 582, ROW_STEP = 684.25;
const INK = "#262626";
const TICK = 68.75, LABEL = 75;

const xScale = (c: number) => d3.scaleLinear().domain(xDomains[c]).range([LEFT + c * COL_STEP, LEFT + c * COL_STEP + COL_W]);
const yScale = (r: number) => d3.scaleLinear().domain(yDomains[r]).range([TOP + r * ROW_STEP + ROW_H, TOP + r * ROW_STEP]);

function Cells({ id, xs, ys, rows, x, y }: any) {
  const sparse: any[] = [], solid: any[] = [], tint: any[] = [], clip: any[] = [];
  rows.forEach((row: string, i: number) => {
    if (i + 1 >= ys.length) return;
    for (let j = 0; j < row.length && j + 1 < xs.length; j++) {
      const ch = row[j];
      if (ch === "." || !heatColor[ch]) continue;
      const px = x(xs[j]), py = y(ys[i]), w = x(xs[j + 1]) - px, h = y(ys[i + 1]) - py;
      const key = `${i}-${j}`;
      if (ch === "a" || ch === "b") {
        sparse.push(<rect key={key} x={px} y={py} width={w} height={h} fill={heatColor[ch]} />);
      } else {
        solid.push(<rect key={key} x={px} y={py} width={w + 0.7} height={h + 0.7} fill={heatColor["1"]} />);
        clip.push(<rect key={key} x={px} y={py} width={w + 0.7} height={h + 0.7} />);
        tint.push(<rect key={key} x={px} y={py} width={w + 0.7} height={h + 0.7} fill={heatColor[ch]} />);
      }
    }
  });
  return (
    <g>
      {sparse}
      {solid}
      <clipPath id={id}>{clip}</clipPath>
      <g clipPath={`url(#${id})`}><g filter="url(#soft)">{tint}</g></g>
    </g>
  );
}

function Panel({ r, c }: { r: number; c: number }) {
  const x = xScale(c), y = yScale(r);
  const [x0, x1] = x.range(); const [yb, yt] = y.range();
  const heat = heatPanels.find((p) => p.r === r && p.c === c);
  const kde = kdePanels.find((p) => p.r === r && p.c === c);
  const closed = d3.line<number[]>().x((d) => x(d[0])).y((d) => y(d[1])).curve(d3.curveCatmullRomClosed.alpha(0.5));
  let diag = null;
  if (r === c) {
    const h = d3.scaleLinear().domain([0, 100]).range([yb, yt]);
    const [start, step, vals] = diagHists[c] as [number, number, number[]];
    const ln = d3.line<number[]>().x((d) => x(d[0])).y((d) => h(d[1])).curve(d3.curveMonotoneX);
    diag = (
      <g>
        {vals.map((v, k) => (
          <rect key={k} x={x(start + k * step)} y={h(v)} width={x(start + (k + 1) * step) - x(start + k * step)} height={yb + 1 - h(v)} fill="#4c72b0" fillOpacity={0.5} stroke="#fff" strokeOpacity={0.5} strokeWidth={1.4} />
        ))}
        <path d={ln(diagLines[c]) as string} fill="none" stroke="#4c72b0" strokeWidth={6.2} strokeLinecap="round" />
      </g>
    );
  }
  return (
    <g>
      <rect x={x0} y={yt} width={COL_W} height={ROW_H} fill="#eaeaf2" />
      {xTicks[c].map((t) => <line key={"v" + t} x1={x(t)} x2={x(t)} y1={yt} y2={yb} stroke="#fff" strokeWidth={4.2} />)}
      {yTicks[r].map((t) => <line key={"h" + t} x1={x0} x2={x1} y1={y(t)} y2={y(t)} stroke="#fff" strokeWidth={4.2} />)}
      {heat && <Cells id={`cells-${r}-${c}`} xs={heat.xs} ys={heat.ys} rows={heat.rows} x={x} y={y} />}
      {heat && heat.specks.map((s, k) => <rect key={"s" + k} x={x(s[0])} y={y(s[1])} width={7} height={7} fill={heatColor["1"]} />)}
      {r === 3 && c === 4 && (
        <g>
          {maSolid.map((v, k) => {
            const yT = y(maRowTop[k]), hh = y(maRowTop[k + 1]) - yT;
            return (
              <g key={k}>
                <rect x={x(0)} y={yT} width={x(v) - x(0)} height={hh + 0.5} fill={heatColor["1"]} />
                <rect x={x(v)} y={yT} width={x(maMedium[k]) - x(v)} height={hh + 0.5} fill={heatColor.b} />
                <rect x={x(maMedium[k])} y={yT} width={x(maSparse[k]) - x(maMedium[k])} height={hh + 0.5} fill={heatColor.a} />
              </g>
            );
          })}
          <Cells id="cells-core" xs={maCoreX} ys={maCoreY} rows={maCoreRows} x={x} y={y} />
          {speckMA.map((s, k) => <rect key={k} x={x(s[0])} y={y(s[1])} width={6} height={12} fill={heatColor["1"]} />)}
        </g>
      )}
      {kde && kde.rings.map((ring, k) => (
        <path key={k} d={closed(ring[1].map((v, q) => [v, ring[2][q]])) as string} fill={kdeColor(ring[0])}
          stroke={ring[0] > 1.5 ? kdeColor(ring[0] - 1) : "none"} strokeWidth={9} strokeLinejoin="round" style={{ paintOrder: "stroke" }} />
      ))}
      {diag}
    </g>
  );
}

export default function App() {
  const idx = [0, 1, 2, 3, 4];
  return (
    <svg width={3750} height={3750} viewBox="0 0 3750 3750" style={{ position: "absolute", left: 0, top: 0, background: "#fff", fontFamily: '"Liberation Sans", Arial, sans-serif' }}>
      <defs>
        <pattern id="speckA" patternUnits="userSpaceOnUse" width={72} height={72}>
          {speckAcells.map((p, k) => <rect key={k} x={p[0]} y={p[1]} width={7} height={7} fill="#bcc7e2" />)}
        </pattern>
        <pattern id="speckB" patternUnits="userSpaceOnUse" width={36} height={36}>
          {speckBcells.map((p, k) => <rect key={k} x={p[0]} y={p[1]} width={6.5} height={6.5} fill="#bcc7e2" />)}
        </pattern>
        <filter id="soft" x="-10%" y="-10%" width="120%" height="120%">
          <feGaussianBlur stdDeviation={6} />
        </filter>
      </defs>
      {idx.map((r) => idx.map((c) => <Panel key={`${r}-${c}`} r={r} c={c} />))}
      {idx.map((r) => {
        const y = yScale(r);
        const yc = TOP + r * ROW_STEP + ROW_H / 2;
        return (
          <g key={r} fill={INK}>
            {yTicks[r].map((t, k) => <text key={k} x={294} y={y(t) + 24.5} textAnchor="end" fontSize={TICK}>{yTickText[r][k]}</text>)}
            <text transform={`translate(${yLabelX[r]},${yc}) rotate(-90)`} textAnchor="middle" fontSize={LABEL}>{labels[r]}</text>
          </g>
        );
      })}
      {idx.map((c) => {
        const x = xScale(c);
        return (
          <g key={c} fill={INK}>
            {xTicks[c].map((t, k) => <text key={k} x={x(t)} y={3485} textAnchor="middle" fontSize={TICK}>{xTickText[c][k]}</text>)}
            <text x={LEFT + c * COL_STEP + COL_W / 2} y={3656} textAnchor="middle" fontSize={LABEL}>{labels[c]}</text>
          </g>
        );
      })}
      <g fill={INK} fontSize={TICK}>
        <text x={LEFT} y={TOP + 3 * ROW_STEP - 14} textAnchor="start">1e14</text>
        <text x={LEFT} y={TOP + 4 * ROW_STEP - 14} textAnchor="start">1e14</text>
        <text x={LEFT + 3 * COL_STEP + COL_W} y={3562} textAnchor="end">1e14</text>
        <text x={LEFT + 4 * COL_STEP + COL_W} y={3562} textAnchor="end">1e14</text>
      </g>
    </svg>
  );
}
